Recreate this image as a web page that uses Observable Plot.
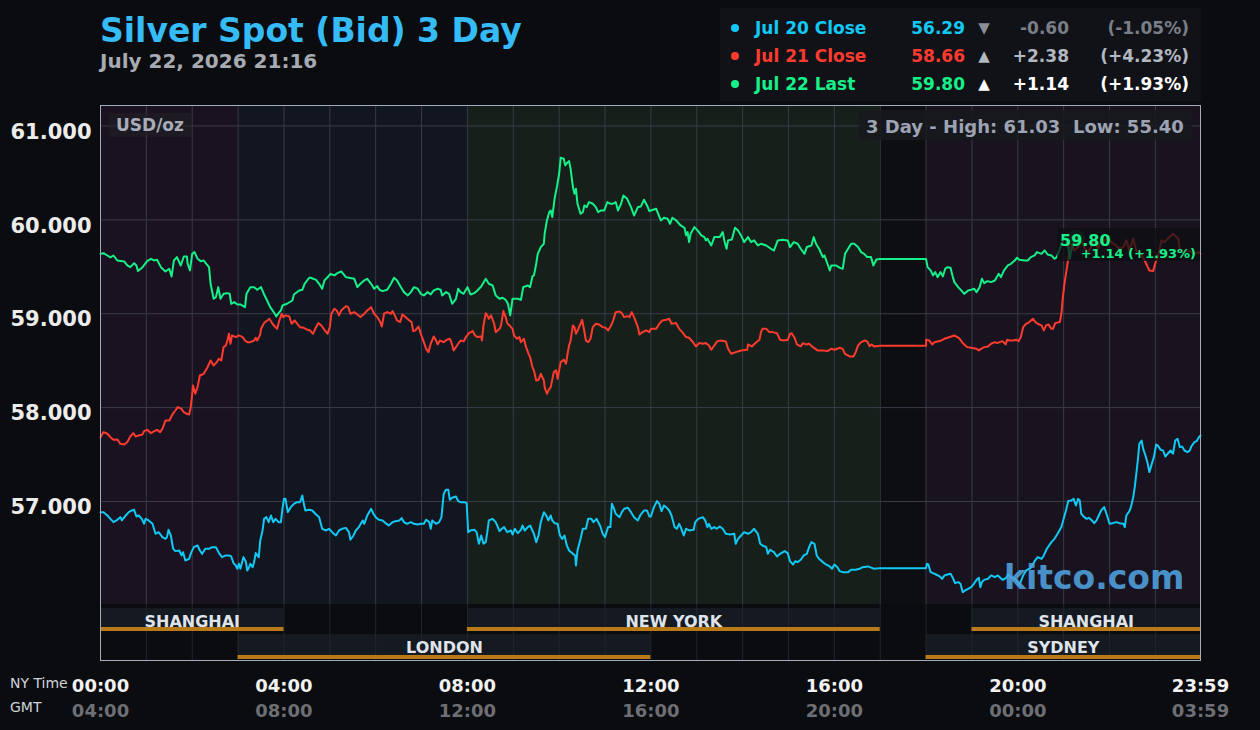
<!DOCTYPE html>
<html><head><meta charset="utf-8">
<script src="https://cdn.jsdelivr.net/npm/d3@7"></script>
<script src="https://cdn.jsdelivr.net/npm/@observablehq/plot@0.6"></script>
<style>
body{margin:0;background:#0b0c10;}
#wrap{position:relative;width:1260px;height:730px;overflow:hidden;font-family:"DejaVu Sans",sans-serif;background:#0b0c10;}
#wrap svg{position:absolute;left:0;top:0;}
.t{position:absolute;white-space:pre;line-height:1.2;}
</style></head>
<body><div id="wrap"></div>
<script>
// ---------- DATA (minutes after 00:00 NY time, USD/oz) ----------
const jul20 = [[0,56.886],[4,56.886],[9,56.851],[13,56.815],[17,56.780],[22,56.805],[26,56.833],[28,56.798],[33,56.851],[37,56.886],[41,56.904],[44,56.911],[47,56.840],[50,56.851],[54,56.815],[57,56.762],[59,56.815],[63,56.798],[68,56.762],[72,56.656],[76,56.673],[81,56.620],[85,56.602],[87,56.620],[89,56.698],[92,56.638],[95,56.496],[98,56.471],[103,56.478],[106,56.425],[108,56.460],[111,56.371],[116,56.389],[118,56.442],[122,56.513],[127,56.531],[130,56.478],[133,56.442],[137,56.496],[142,56.496],[146,56.513],[151,56.513],[155,56.450],[159,56.407],[164,56.425],[168,56.425],[171,56.414],[174,56.343],[177,56.318],[179,56.283],[181,56.336],[183,56.283],[187,56.407],[190,56.364],[192,56.265],[194,56.293],[196,56.336],[199,56.300],[201,56.354],[203,56.450],[207,56.407],[209,56.584],[212,56.691],[214,56.815],[217,56.833],[220,56.780],[223,56.851],[226,56.780],[229,56.815],[233,56.780],[236,56.780],[238,56.922],[240,57.028],[242,57.028],[245,56.886],[249,56.940],[253,56.975],[257,56.993],[261,56.993],[264,57.064],[266,56.975],[268,56.904],[273,56.911],[277,56.904],[281,56.869],[286,56.833],[290,56.709],[295,56.691],[299,56.709],[303,56.673],[308,56.638],[312,56.691],[316,56.709],[321,56.719],[325,56.673],[327,56.592],[331,56.638],[334,56.691],[338,56.727],[343,56.798],[345,56.762],[349,56.851],[354,56.922],[357,56.869],[360,56.833],[364,56.805],[369,56.798],[373,56.769],[377,56.744],[382,56.780],[386,56.790],[391,56.798],[394,56.822],[397,56.780],[401,56.762],[406,56.780],[410,56.762],[415,56.755],[419,56.762],[423,56.762],[426,56.805],[430,56.780],[432,56.709],[434,56.798],[439,56.762],[443,56.780],[446,56.833],[449,57.082],[452,57.124],[455,57.124],[457,57.018],[460,57.039],[465,57.053],[468,57.004],[471,56.993],[476,56.993],[479,56.982],[481,56.673],[484,56.691],[489,56.698],[492,56.673],[495,56.549],[498,56.638],[501,56.549],[504,56.567],[506,56.673],[508,56.798],[513,56.815],[517,56.780],[522,56.684],[525,56.709],[528,56.727],[532,56.673],[537,56.691],[539,56.648],[542,56.709],[546,56.663],[550,56.698],[552,56.744],[555,56.691],[559,56.727],[562,56.744],[567,56.656],[570,56.567],[573,56.638],[576,56.780],[580,56.886],[583,56.851],[586,56.798],[589,56.851],[591,56.798],[594,56.769],[598,56.762],[601,56.638],[604,56.602],[607,56.638],[610,56.531],[613,56.478],[618,56.442],[621,56.425],[622,56.318],[624,56.478],[628,56.602],[631,56.709],[635,56.709],[638,56.815],[642,56.815],[645,56.780],[649,56.815],[654,56.734],[657,56.656],[660,56.620],[664,56.727],[667,56.727],[669,56.975],[671,56.940],[674,56.869],[679,56.833],[682,56.886],[685,56.922],[690,56.933],[694,56.886],[698,56.833],[703,56.798],[706,56.851],[711,56.904],[715,56.904],[718,56.840],[720,56.840],[724,56.940],[728,57.004],[731,56.975],[734,56.897],[737,56.957],[740,56.940],[744,56.904],[747,56.851],[751,56.727],[754,56.709],[757,56.762],[759,56.727],[763,56.638],[766,56.709],[770,56.691],[776,56.698],[778,56.780],[782,56.815],[788,56.833],[791,56.798],[794,56.727],[796,56.762],[799,56.709],[803,56.727],[806,56.709],[810,56.734],[814,56.709],[818,56.656],[824,56.648],[829,56.656],[831,56.549],[834,56.602],[838,56.638],[842,56.673],[847,56.656],[851,56.673],[855,56.709],[860,56.656],[863,56.549],[866,56.531],[871,56.513],[873,56.442],[876,56.485],[881,56.460],[885,56.414],[889,56.442],[895,56.471],[899,56.450],[902,56.364],[906,56.329],[909,56.364],[912,56.354],[916,56.379],[920,56.425],[924,56.442],[927,56.513],[930,56.567],[934,56.549],[937,56.425],[940,56.389],[945,56.354],[949,56.329],[954,56.308],[957,56.283],[960,56.329],[964,56.300],[967,56.258],[971,56.247],[978,56.247],[982,56.272],[988,56.272],[993,56.283],[997,56.300],[1004,56.308],[1009,56.293],[1012,56.283],[1020,56.29],[1080,56.29],[1081,56.336],[1083,56.329],[1086,56.247],[1089,56.237],[1093,56.222],[1098,56.201],[1101,56.176],[1104,56.212],[1108,56.222],[1112,56.229],[1115,56.187],[1118,56.130],[1122,56.141],[1125,56.123],[1128,56.034],[1131,56.052],[1135,56.070],[1139,56.087],[1142,56.116],[1146,56.165],[1149,56.187],[1151,56.087],[1153,56.141],[1156,56.165],[1161,56.176],[1165,56.212],[1170,56.194],[1174,56.212],[1177,56.187],[1180,56.165],[1185,56.187],[1187,56.222],[1191,56.194],[1196,56.176],[1199,56.151],[1202,56.105],[1207,56.212],[1211,56.265],[1217,56.293],[1222,56.364],[1226,56.407],[1231,56.389],[1234,56.425],[1238,56.496],[1244,56.567],[1248,56.602],[1252,56.656],[1257,56.727],[1260,56.815],[1263,56.904],[1266,57.004],[1270,57.011],[1273,57.028],[1276,56.957],[1279,57.028],[1281,57.011],[1283,56.869],[1287,56.833],[1290,56.815],[1293,56.826],[1296,56.805],[1300,56.769],[1303,56.798],[1306,56.851],[1309,56.904],[1313,56.940],[1316,56.869],[1320,56.762],[1324,56.769],[1329,56.780],[1333,56.769],[1338,56.762],[1340,56.727],[1342,56.851],[1346,56.897],[1348,56.940],[1351,57.046],[1353,57.153],[1355,57.295],[1357,57.437],[1359,57.614],[1362,57.650],[1364,57.561],[1367,57.490],[1370,57.401],[1372,57.313],[1376,57.419],[1378,57.472],[1381,57.607],[1383,57.597],[1387,57.550],[1390,57.543],[1393,57.479],[1396,57.508],[1400,57.543],[1403,57.508],[1406,57.650],[1409,57.668],[1412,57.579],[1415,57.586],[1418,57.543],[1422,57.526],[1425,57.543],[1427,57.586],[1431,57.632],[1434,57.643],[1437,57.685],[1439,57.703]];

const jul21 = [[0,57.685],[4,57.739],[9,57.721],[13,57.685],[17,57.657],[22,57.661],[26,57.614],[31,57.607],[35,57.632],[39,57.692],[43,57.728],[46,57.692],[50,57.703],[55,57.714],[57,57.749],[61,57.763],[66,57.728],[70,57.746],[74,57.763],[78,57.739],[81,57.774],[85,57.863],[90,57.863],[94,57.927],[98,57.969],[101,58.005],[105,57.994],[109,57.952],[113,57.934],[116,57.927],[118,58.005],[120,58.147],[121,58.236],[124,58.147],[127,58.218],[130,58.342],[135,58.360],[140,58.431],[144,58.502],[148,58.449],[152,58.484],[155,58.520],[158,58.502],[161,58.644],[164,58.662],[166,58.715],[168,58.786],[170,58.680],[172,58.769],[177,58.751],[181,58.769],[186,58.751],[189,58.715],[192,58.697],[196,58.697],[201,58.715],[203,58.744],[205,58.715],[209,58.779],[210,58.839],[214,58.900],[218,58.928],[221,58.946],[225,58.893],[228,58.864],[231,58.839],[234,58.928],[237,59.0],[239,58.964],[242,58.982],[247,58.971],[250,58.893],[254,58.928],[258,58.886],[261,58.857],[266,58.850],[271,58.829],[274,58.822],[278,58.786],[282,58.857],[285,58.900],[289,58.875],[292,58.839],[297,58.786],[300,58.857],[302,59.0],[306,59.053],[309,59.035],[312,58.982],[315,59.035],[321,59.081],[324,59.070],[327,59.0],[332,59.017],[336,58.992],[340,58.964],[345,59.0],[349,59.035],[354,59.070],[358,59.0],[362,58.964],[366,58.911],[368,58.864],[371,59.0],[375,59.017],[380,59.0],[382,59.028],[385,58.982],[388,58.928],[392,58.911],[395,58.992],[399,58.964],[404,58.928],[407,58.911],[409,58.815],[412,58.822],[416,58.864],[419,58.786],[423,58.697],[426,58.626],[429,58.591],[432,58.680],[436,58.758],[439,58.715],[441,58.673],[444,58.715],[449,58.697],[453,58.722],[457,58.733],[459,58.697],[462,58.609],[465,58.644],[468,58.680],[471,58.715],[475,58.705],[478,58.751],[482,58.793],[487,58.815],[490,58.768],[493,58.751],[498,58.758],[499,58.715],[501,58.875],[504,59.006],[506,58.982],[508,58.946],[511,58.982],[515,58.893],[517,58.804],[522,58.839],[524,58.875],[527,59.028],[530,58.964],[532,58.900],[535,58.875],[539,58.839],[541,58.768],[545,58.733],[548,58.751],[550,58.697],[554,58.733],[556,58.662],[560,58.573],[562,58.538],[565,58.431],[567,58.396],[570,58.289],[573,58.296],[576,58.360],[580,58.289],[581,58.218],[584,58.147],[586,58.183],[589,58.218],[593,58.378],[596,58.396],[598,58.307],[600,58.396],[602,58.484],[606,58.509],[609,58.467],[611,58.573],[613,58.662],[615,58.715],[618,58.875],[620,58.857],[622,58.786],[625,58.839],[628,58.893],[630,58.935],[632,58.857],[635,58.715],[638,58.697],[641,58.733],[644,58.857],[648,58.893],[652,58.886],[657,58.857],[661,58.850],[664,58.822],[668,58.875],[671,58.935],[674,59.017],[679,59.024],[682,59.006],[685,58.964],[689,58.974],[692,58.964],[695,59.017],[698,58.964],[703,58.857],[705,58.779],[709,58.804],[714,58.822],[718,58.804],[720,58.839],[727,58.839],[731,58.893],[735,58.928],[740,58.935],[744,58.946],[747,58.893],[753,58.900],[757,58.839],[761,58.804],[766,58.751],[770,58.744],[775,58.697],[779,58.651],[783,58.687],[788,58.680],[792,58.687],[796,58.662],[799,58.616],[802,58.651],[807,58.708],[812,58.715],[818,58.705],[821,58.626],[825,58.573],[831,58.591],[838,58.609],[846,58.616],[847,58.673],[852,58.651],[858,58.697],[862,58.722],[864,58.804],[866,58.839],[871,58.839],[875,58.804],[879,58.804],[885,58.793],[889,58.722],[894,58.715],[899,58.722],[902,58.786],[904,58.793],[908,58.744],[911,58.673],[916,58.651],[919,58.687],[923,58.673],[927,58.680],[932,58.644],[938,58.609],[945,58.609],[951,58.602],[956,58.626],[960,58.616],[967,58.637],[971,58.626],[974,58.573],[980,58.545],[985,58.545],[988,58.591],[991,58.662],[995,58.697],[1000,58.715],[1003,58.705],[1006,58.655],[1009,58.673],[1012,58.651],[1020,58.66],[1080,58.66],[1080,58.722],[1084,58.715],[1088,58.673],[1091,58.697],[1095,58.705],[1100,58.715],[1104,58.733],[1108,58.744],[1113,58.758],[1117,58.768],[1121,58.751],[1124,58.733],[1127,58.697],[1130,58.673],[1134,58.644],[1139,58.637],[1146,58.626],[1149,58.609],[1152,58.626],[1156,58.644],[1161,58.651],[1165,58.680],[1170,58.697],[1173,58.687],[1176,58.697],[1180,58.708],[1184,58.673],[1186,58.722],[1189,58.715],[1194,58.715],[1198,58.722],[1201,58.708],[1204,58.751],[1207,58.857],[1211,58.893],[1215,58.911],[1220,58.946],[1223,58.911],[1226,58.893],[1231,58.875],[1234,58.822],[1237,58.875],[1240,58.886],[1244,58.839],[1246,58.839],[1249,58.900],[1255,58.911],[1257,59.0],[1259,59.177],[1261,59.319],[1263,59.425],[1266,59.585],[1268,59.710],[1270,59.745],[1274,59.674],[1279,59.710],[1283,59.781],[1287,59.702],[1292,59.656],[1296,59.717],[1300,59.781],[1305,59.692],[1309,59.781],[1314,59.781],[1318,59.816],[1322,59.763],[1327,59.738],[1333,59.692],[1338,59.710],[1342,59.781],[1346,59.674],[1351,59.798],[1355,59.674],[1362,59.621],[1366,59.567],[1369,59.514],[1372,59.461],[1377,59.454],[1381,59.567],[1383,59.603],[1388,59.781],[1392,59.763],[1396,59.798],[1403,59.852],[1410,59.798],[1412,59.674],[1416,59.656],[1423,59.674],[1431,59.638],[1438,59.656],[1439,59.64]];

const jul22 = [[0,59.640],[4,59.645],[9,59.620],[13,59.600],[17,59.620],[22,59.567],[31,59.557],[35,59.514],[39,59.496],[44,59.539],[47,59.514],[49,59.454],[55,59.496],[61,59.560],[66,59.585],[70,59.567],[74,59.574],[79,59.496],[85,59.450],[90,59.479],[93,59.397],[96,59.567],[100,59.603],[105,59.514],[109,59.610],[113,59.610],[114,59.532],[117,59.461],[120,59.638],[123,59.656],[127,59.585],[131,59.560],[135,59.567],[139,59.525],[142,59.496],[144,59.319],[148,59.159],[151,59.177],[154,59.283],[157,59.159],[161,59.212],[166,59.219],[169,59.212],[171,59.106],[175,59.124],[179,59.099],[183,59.099],[189,59.070],[191,59.212],[196,59.283],[201,59.283],[205,59.255],[210,59.283],[214,59.205],[218,59.141],[222,59.070],[225,59.035],[228,59.0],[230,58.971],[234,59.017],[236,59.035],[238,59.088],[244,59.106],[251,59.141],[253,59.205],[260,59.248],[264,59.255],[267,59.319],[273,59.383],[275,59.383],[282,59.361],[286,59.319],[290,59.266],[293,59.354],[301,59.425],[306,59.408],[310,59.433],[315,59.450],[321,59.390],[325,59.383],[332,59.372],[336,59.283],[340,59.319],[345,59.354],[349,59.372],[354,59.319],[358,59.266],[362,59.294],[365,59.255],[369,59.241],[375,59.255],[380,59.319],[384,59.383],[388,59.354],[393,59.283],[397,59.230],[402,59.195],[406,59.230],[410,59.283],[415,59.266],[419,59.212],[423,59.195],[428,59.230],[432,59.205],[436,59.248],[441,59.266],[445,59.255],[447,59.195],[452,59.230],[456,59.212],[460,59.106],[465,59.159],[468,59.266],[471,59.230],[475,59.212],[480,59.283],[484,59.205],[489,59.219],[493,59.248],[498,59.290],[504,59.372],[508,59.319],[513,59.301],[517,59.195],[522,59.159],[526,59.170],[530,59.148],[533,59.106],[536,58.982],[539,59.159],[546,59.159],[550,59.148],[553,59.283],[559,59.301],[562,59.283],[565,59.397],[567,59.408],[570,59.532],[572,59.638],[576,59.710],[580,59.745],[581,59.852],[584,59.994],[587,60.082],[589,60.100],[591,60.029],[594,60.224],[597,60.349],[600,60.491],[602,60.661],[606,60.651],[608,60.580],[610,60.604],[613,60.626],[615,60.544],[618,60.349],[620,60.278],[622,60.331],[624,60.171],[628,60.065],[631,60.082],[633,60.153],[636,60.136],[639,60.189],[644,60.171],[648,60.136],[651,60.082],[655,60.100],[659,60.100],[663,60.189],[667,60.171],[670,60.171],[674,60.189],[677,60.100],[681,60.171],[684,60.260],[689,60.224],[694,60.136],[698,60.046],[703,60.136],[707,60.143],[711,60.214],[715,60.153],[718,60.093],[720,60.100],[727,60.118],[733,59.994],[737,60.022],[742,60.011],[745,59.958],[748,60.022],[753,59.994],[759,59.940],[764,59.915],[766,59.834],[768,59.869],[770,59.763],[772,59.852],[777,59.923],[781,59.887],[786,59.834],[790,59.816],[792,59.781],[794,59.798],[799,59.727],[803,59.816],[810,59.816],[814,59.869],[816,59.781],[819,59.692],[821,59.781],[826,59.791],[830,59.915],[834,59.887],[838,59.834],[842,59.763],[847,59.816],[851,59.763],[855,59.781],[860,59.727],[864,59.745],[871,59.727],[877,59.692],[881,59.674],[886,59.781],[892,59.788],[899,59.781],[902,59.710],[907,59.763],[912,59.745],[916,59.692],[921,59.638],[924,59.710],[930,59.727],[933,59.816],[936,59.745],[940,59.692],[945,59.603],[947,59.621],[951,59.532],[954,59.461],[956,59.514],[962,59.514],[968,59.486],[971,59.479],[974,59.638],[978,59.692],[982,59.745],[986,59.745],[991,59.710],[995,59.656],[999,59.638],[1003,59.603],[1008,59.603],[1011,59.514],[1015,59.578],[1020,59.582],[1080,59.582],[1082,59.496],[1086,59.461],[1089,59.408],[1092,59.443],[1095,59.390],[1099,59.443],[1102,59.397],[1105,59.479],[1108,59.496],[1112,59.489],[1115,59.390],[1117,59.337],[1122,59.283],[1126,59.248],[1130,59.212],[1135,59.248],[1139,59.255],[1143,59.266],[1146,59.230],[1150,59.283],[1153,59.372],[1156,59.326],[1160,59.347],[1165,59.337],[1170,59.354],[1175,59.425],[1178,59.390],[1182,59.461],[1187,59.514],[1191,59.532],[1196,59.567],[1199,59.596],[1202,59.575],[1209,59.567],[1213,59.567],[1217,59.603],[1222,59.621],[1225,59.656],[1231,59.638],[1235,59.674],[1239,59.631],[1244,59.621],[1248,59.585],[1251,59.603],[1255,59.692],[1259,59.781],[1262,59.816],[1266,59.710],[1268,59.585],[1270,59.674],[1274,59.781],[1276,59.80]];

const legendLabels = ["Jul 20 Close", "Jul 21 Close", "Jul 22 Last"];
const legendValues = [56.29, 58.66, 59.80];
const legendChanges = [-0.60, 2.38, 1.14];
const legendPercents = [-1.05, 4.23, 1.93];

const yTicks = [57, 58, 59, 60, 61];
const xTicks = [0, 240, 480, 720, 960, 1200, 1439];
const xLabelsNY = ["00:00", "04:00", "08:00", "12:00", "16:00", "20:00", "23:59"];
const xLabelsGMT = ["04:00", "08:00", "12:00", "16:00", "20:00", "00:00", "03:59"];

const zones = [
  {zone: "asia", start: 0, end: 180},
  {zone: "london", start: 180, end: 480},
  {zone: "newyork", start: 480, end: 1020},
  {zone: "closed", start: 1020, end: 1080},
  {zone: "evening", start: 1080, end: 1439}
];
const sessions = [
  {name: "SHANGHAI", start: 0, end: 240, row: 1},
  {name: "LONDON", start: 180, end: 720, row: 2},
  {name: "NEW YORK", start: 480, end: 1020, row: 1},
  {name: "SYDNEY", start: 1080, end: 1439, row: 2},
  {name: "SHANGHAI", start: 1140, end: 1439, row: 1}
];
const highLow = {high: 61.03, low: 55.40};
const stamp = "July 22, 2026 21:16";

// ---------- STYLE / LAYOUT ----------
const C = {blue: "#12c8f4", red: "#ff3b2f", green: "#16f089"};
const zoneFill = {asia: "#1a1220", london: "#121620", newyork: "#161f19", closed: "#0d0e11", evening: "#19131f"};
const yMin = 55.306, yMax = 61.218;           // y domain across the whole frame (px 105..660)
const pyToV = p => yMax - (p - 105) * (yMax - yMin) / 555;
const lineBottom = pyToV(604);
const rowPx = {1: {top: 608, bottom: 631, mid: 621}, 2: {top: 634, bottom: 659, mid: 647}};

const signed = v => (v >= 0 ? "+" : "-") + Math.abs(v).toFixed(2);
const last = jul22[jul22.length - 1];

const chart = Plot.plot({
  width: 1260, height: 730,
  marginTop: 105, marginRight: 60, marginBottom: 70, marginLeft: 100,
  x: {domain: [0, 1439], axis: null},
  y: {domain: [yMin, yMax], axis: null},
  color: {type: "identity"},
  style: {background: "transparent", fontFamily: "DejaVu Sans, sans-serif"},
  marks: [
    Plot.rect(zones, {x1: "start", x2: "end", y1: lineBottom, y2: yMax, fill: d => zoneFill[d.zone]}),
    Plot.rect(sessions, {x1: "start", x2: "end", y1: d => pyToV(rowPx[d.row].bottom), y2: d => pyToV(rowPx[d.row].top), fill: "#141922"}),
    Plot.ruleX(d3.range(60, 1440, 60), {y1: lineBottom, y2: yMax, stroke: "#393a46", strokeWidth: 1}),
    Plot.ruleX(d3.range(60, 1440, 60), {y1: yMin, y2: lineBottom, stroke: "#23252d", strokeWidth: 1}),
    Plot.ruleY(yTicks, {stroke: "#3b3c48", strokeWidth: 1}),
    Plot.rect(sessions, {x1: "start", x2: "end", y1: d => pyToV(rowPx[d.row].bottom), y2: d => pyToV(rowPx[d.row].bottom - 4), fill: "#b97b17"}),
    Plot.text(sessions, {x: d => (d.start + d.end) / 2, y: d => pyToV(rowPx[d.row].mid), text: "name", fontSize: 16, fontWeight: "bold", fill: "#dfe3ea"}),
    Plot.line(jul20, {x: d => d[0], y: d => d[1], stroke: C.blue, strokeWidth: 2}),
    Plot.line(jul21, {x: d => d[0], y: d => d[1], stroke: C.red, strokeWidth: 2}),
    Plot.line(jul22, {x: d => d[0], y: d => d[1], stroke: C.green, strokeWidth: 2}),
    Plot.dot([last], {x: d => d[0], y: d => d[1], r: 9, fill: C.green, fillOpacity: 0.22, stroke: null}),
    Plot.dot([last], {x: d => d[0], y: d => d[1], r: 5, fill: C.green, fillOpacity: 0.35, stroke: null}),
    Plot.frame({stroke: "#a3acbd", strokeWidth: 1}),
    Plot.text(yTicks, {y: d => d, text: d => d3.format(".3f")(d), frameAnchor: "left", textAnchor: "end", dx: -9, dy: 6, fontSize: 21, fontWeight: "bold", fill: "#ececec"}),
    Plot.text(xTicks, {x: d => d, text: (d, i) => xLabelsNY[i], frameAnchor: "bottom", dy: 31, fontSize: 18, fontWeight: "bold", fill: "#f2f2f2"}),
    Plot.text(xTicks, {x: d => d, text: (d, i) => xLabelsGMT[i], frameAnchor: "bottom", dy: 56, fontSize: 18, fontWeight: "bold", fill: "#6e6f74"})
  ]
});

const wrap = document.getElementById("wrap");
wrap.appendChild(chart);

function box(x, y, w, h, bg) {
  const d = document.createElement("div");
  d.style.cssText = `position:absolute;left:${x}px;top:${y}px;width:${w}px;height:${h}px;background:${bg};`;
  wrap.appendChild(d);
  return d;
}
function txt(s, {x, cy, anchor = "start", size = 16, weight = "bold", color = "#fff"}) {
  const d = document.createElement("div");
  d.className = "t";
  d.textContent = s;
  let css = `top:${cy - 0.58 * size}px;font-size:${size}px;font-weight:${weight};color:${color};`;
  if (anchor === "start") css += `left:${x}px;`;
  else if (anchor === "end") css += `right:${1260 - x}px;text-align:right;`;
  else css += `left:${x - 200}px;width:400px;text-align:center;`;
  d.style.cssText += css;
  wrap.appendChild(d);
  return d;
}

txt("Silver Spot (Bid) 3 Day", {x: 100, cy: 30, size: 33, color: "#35bbf6"});
txt(stamp, {x: 100, cy: 61, size: 20, color: "#a8aab2"});

box(720, 8, 481, 93, "#111217");
const rowCol = [C.blue, C.red, C.green];
const chgCol = ["#7a7e88", "#b3b7c0", "#ffffff"];
const triCol = ["#8a8e98", "#b3b7c0", "#ffffff"];
const rowsY = [28, 56, 84];
legendLabels.forEach((lab, i) => {
  const dot = box(731, rowsY[i] - 4, 8, 8, rowCol[i]);
  dot.style.borderRadius = "50%";
  txt(lab, {x: 755, cy: rowsY[i], size: 17, color: rowCol[i]});
  txt(legendValues[i].toFixed(2), {x: 965, cy: rowsY[i], anchor: "end", size: 17, color: rowCol[i]});
  txt(legendChanges[i] < 0 ? "▼" : "▲", {x: 984, cy: rowsY[i], anchor: "middle", size: 15, weight: "normal", color: triCol[i]});
  txt(signed(legendChanges[i]), {x: 1069, cy: rowsY[i], anchor: "end", size: 17, color: chgCol[i]});
  txt("(" + signed(legendPercents[i]) + "%)", {x: 1189, cy: rowsY[i], anchor: "end", size: 17, color: chgCol[i]});
});

box(109, 113, 82, 24, "rgba(34,33,40,0.55)");
txt("USD/oz", {x: 116, cy: 125, size: 17, color: "#a7acb9"});
box(859, 110, 333, 30, "rgba(24,25,30,0.85)");
txt(`3 Day - High: ${highLow.high.toFixed(2)}  Low: ${highLow.low.toFixed(2)}`, {x: 866, cy: 126, size: 18, color: "#9da3b3"});

box(1057, 228, 143, 33, "rgba(14,15,17,0.74)");
txt(last[1].toFixed(2), {x: 1060, cy: 240, size: 16, color: C.green});
txt(`${signed(legendChanges[2])} (${signed(legendPercents[2])}%)`, {x: 1196, cy: 254, anchor: "end", size: 13, color: C.green});

txt("kitco.com", {x: 1004, cy: 577, size: 33, color: "rgba(80,162,224,0.9)"});

txt("NY Time", {x: 10, cy: 683, size: 14, weight: "normal", color: "#cfd3da"});
txt("GMT", {x: 10, cy: 707, size: 14, weight: "normal", color: "#cfd3da"});
</script>
</body></html>
